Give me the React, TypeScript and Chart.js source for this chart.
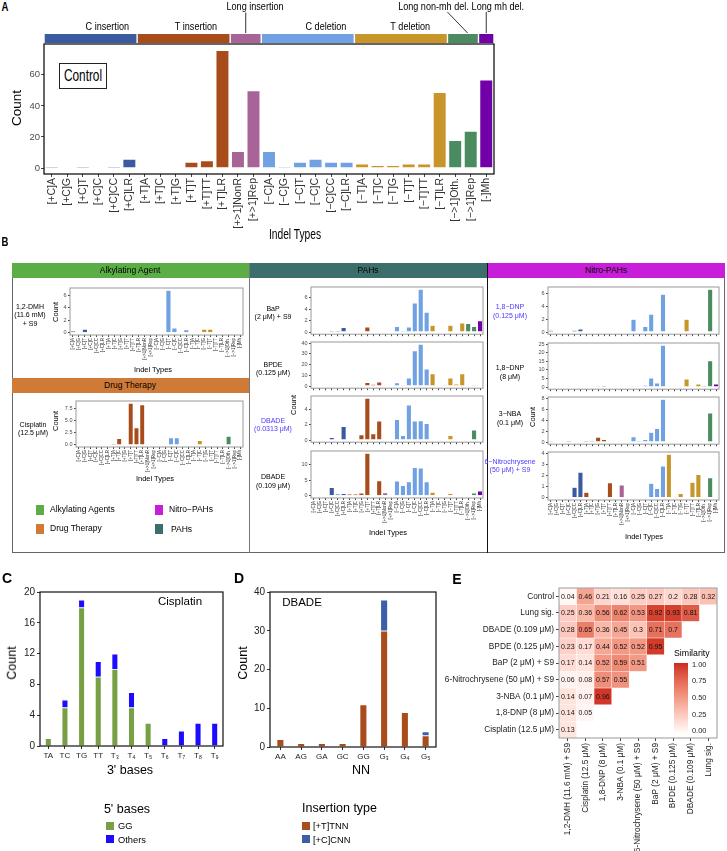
import React, { useEffect, useRef } from 'react';
import { Chart, registerables } from 'chart.js';

Chart.register(...registerables);

const F = "'Liberation Sans', Arial, Helvetica, sans-serif";
Chart.defaults.font.family = F;

// ================= DATA =================
const indelTypes = ['[+C]A', '[+C]G', '[+C]T', '[+C]C', '[+C]CC', '[+C]LR', '[+T]A', '[+T]C', '[+T]G', '[+T]T', '[+T]TT', '[+T]LR', '[+>1]NonR', '[+>1]Rep', '[−C]A', '[−C]G', '[−C]T', '[−C]C', '[−C]CC', '[−C]LR', '[−T]A', '[−T]C', '[−T]G', '[−T]T', '[−T]TT', '[−T]LR', '[−>1]Oth.', '[−>1]Rep', '[-]Mh'];
const indelGroups = ['C insertion', 'T insertion', 'Long insertion', 'C deletion', 'T deletion', 'Long non-mh del.', 'Long mh del.'];
const indelGroupSizes = [6, 6, 2, 6, 6, 2, 1];
const indelGroupColors = ['#3A5BA0', '#A84C1C', '#A86496', '#70A2E3', '#C8952A', '#4A8B5F', '#7100A8'];

const controlCounts = [1, 0, 1, 0, 1, 6, 0, 0, 0, 4, 5, 76, 11, 50, 11, 1, 4, 6, 4, 4, 3, 2, 2, 3, 3, 49, 18, 24, 57];
const controlTicks = [0, 20, 40, 60];

const dmhCounts = [0.3, 0, 0.6, 0, 0, 0, 0, 0, 0, 0, 0, 0, 0, 0, 0, 0, 6.8, 0.8, 0, 0.5, 0, 0, 0.6, 0.6, 0, 0, 0, 0, 0];
const cisplatinCounts = [0, 0, 0, 0, 0, 0, 0.3, 1.3, 0, 8.5, 3.5, 8.2, 0, 0, 0, 0, 1.5, 1.5, 0, 0, 0, 0.9, 0, 0, 0, 0, 1.8, 0, 0];
const bapCounts = [0, 0, 0, 0.3, 0.3, 0.8, 0, 0, 0, 0.9, 0, 0, 0, 0, 1.0, 0.3, 0.9, 5.1, 7.5, 3.5, 1.2, 0, 0, 1.2, 0, 1.6, 1.5, 1.0, 2.0];
const bpdeCounts = [0, 0, 0, 0.5, 0, 0.5, 0, 0, 0, 3.5, 1.8, 3.8, 0, 0, 3.2, 1.0, 7.5, 33, 39, 16, 11.5, 0, 1.0, 7.5, 2.0, 11.5, 0, 1.2, 0];
const dbadeLowCounts = [0, 0, 0, 0.35, 0, 1.8, 0, 0, 0.7, 5.5, 0.85, 2.5, 0, 0, 2.7, 0.6, 4.6, 2.5, 2.55, 2.2, 0, 0, 0, 0.6, 0, 0, 0, 1.35, 0];
const dbadeHighCounts = [0, 0.3, 0, 2.7, 0.6, 0.8, 0.6, 0.6, 0.9, 13.5, 0, 4.8, 1.0, 0, 4.7, 3.3, 4.5, 9.0, 8.8, 4.5, 1.2, 0, 0, 0.8, 0, 0, 0, 0.9, 1.6];
const dnpLowCounts = [0.3, 0, 0, 0, 0.3, 0.5, 0, 0, 0, 0, 0, 0, 0, 0, 2.0, 0, 0.9, 2.8, 0, 5.9, 0, 0, 0, 2.0, 0, 0, 0, 6.7, 0];
const dnpHighCounts = [0, 0, 0.3, 0.3, 0, 0.4, 0, 0, 0.8, 0.9, 0, 0, 0, 0, 0.8, 0.3, 1.2, 5.3, 2.5, 24.5, 0, 0, 0.5, 4.8, 0.5, 1.8, 1.0, 15.5, 1.9];
const nbaCounts = [0.2, 0, 0, 0.25, 0, 0, 0.3, 0.3, 0.9, 0.5, 0, 0, 0, 0, 1.0, 0.3, 0.5, 1.8, 2.5, 7.8, 0, 0, 0, 0, 0, 0, 0, 5.3, 0];
const nitrochryseneCounts = [0, 0, 0, 0, 0.95, 2.3, 0.5, 0, 0, 0, 1.35, 0, 1.15, 0, 0, 0, 0, 1.3, 0.85, 2.85, 3.9, 0, 0.4, 0, 1.4, 2.1, 0, 1.8, 0];

const ticks0246 = [0, 2, 4, 6];
const cisplatinTicks = [0, 2.5, 5, 7.5];
const cisplatinTickLabels = ['0.0', '2.5', '5.0', '7.5'];
const bpdeTicks = [0, 10, 20, 30, 40];
const dbadeLowTicks = [0, 2, 4];
const dbadeHighTicks = [0, 5, 10];
const dnpHighTicks = [0, 5, 10, 15, 20, 25];
const nbaTicks = [0, 2, 4, 6, 8];
const nitroTicks = [0, 1, 2, 3, 4];

// Panel C
const threePrimeBases = ['TA', 'TC', 'TG', 'TT', 'T₃', 'T₄', 'T₅', 'T₆', 'T₇', 'T₈', 'T₉'];
const cisGG = [1, 5, 18, 9, 10, 5, 3, 0, 0, 0, 0];
const cisOthers = [0, 1, 1, 2, 2, 2, 0, 1, 2, 3, 3];
const cTicks = [0, 4, 8, 12, 16, 20];

// Panel D
const nnBases = ['AA', 'AG', 'GA', 'GC', 'GG', 'G₃', 'G₄', 'G₅'];
const dbadeTNN = [2, 1, 1, 1, 11, 30, 9, 3];
const dbadeCNN = [0, 0, 0, 0, 0, 8, 0, 1];
const dTicks = [0, 10, 20, 30, 40];

// Panel E
const simRows = ['Control', 'Lung sig.', 'DBADE (0.109 μM)', 'BPDE (0.125 μM)', 'BaP (2 μM) + S9', '6-Nitrochrysene (50 μM) + S9', '3-NBA (0.1 μM)', '1,8-DNP (8 μM)', 'Cisplatin (12.5 μM)'];
const simCols = ['1,2-DMH (11.6 mM) + S9', 'Cisplatin (12.5 μM)', '1,8-DNP (8 μM)', '3-NBA (0.1 μM)', '6-Nitrochrysene (50 μM) + S9', 'BaP (2 μM) + S9', 'BPDE (0.125 μM)', 'DBADE (0.109 μM)', 'Lung sig.'];
const simControl = [0.04, 0.46, 0.21, 0.16, 0.25, 0.27, 0.2, 0.28, 0.32];
const simLung = [0.25, 0.36, 0.56, 0.62, 0.53, 0.92, 0.93, 0.81];
const simDbade = [0.28, 0.65, 0.36, 0.45, 0.3, 0.71, 0.7];
const simBpde = [0.23, 0.17, 0.44, 0.52, 0.52, 0.95];
const simBap = [0.17, 0.14, 0.52, 0.59, 0.51];
const simNitro = [0.06, 0.08, 0.57, 0.55];
const simNba = [0.14, 0.07, 0.96];
const simDnp = [0.14, 0.05];
const simCisplatin = [0.13];
const simMatrix = [simControl, simLung, simDbade, simBpde, simBap, simNitro, simNba, simDnp, simCisplatin];
const simLegendTicks = [1, 0.75, 0.5, 0.25, 0];

// ================= HELPERS =================
const barColors: string[] = [];
indelGroupSizes.forEach((n, g) => { for (let k = 0; k < n; k++) barColors.push(indelGroupColors[g]); });

function framePlugin(color: string, width = 1) {
  return {
    id: 'frame',
    afterDraw(chart: any) {
      const { ctx, chartArea: a } = chart;
      ctx.save();
      ctx.strokeStyle = color;
      ctx.lineWidth = width;
      ctx.strokeRect(a.left, a.top, a.right - a.left, a.bottom - a.top);
      ctx.restore();
    },
  };
}

function srgbToLin(c: number) { c /= 255; return c <= 0.04045 ? c / 12.92 : Math.pow((c + 0.055) / 1.055, 2.4); }
function linToSrgb(c: number) { const v = c <= 0.0031308 ? 12.92 * c : 1.055 * Math.pow(c, 1 / 2.4) - 0.055; return Math.round(Math.max(0, Math.min(1, v)) * 255); }
function hexRgb(h: string) { return [parseInt(h.slice(1, 3), 16), parseInt(h.slice(3, 5), 16), parseInt(h.slice(5, 7), 16)]; }
function rgbToLab(rgb: number[]) {
  const R = srgbToLin(rgb[0]), G = srgbToLin(rgb[1]), B = srgbToLin(rgb[2]);
  const X = (0.4124 * R + 0.3576 * G + 0.1805 * B) / 0.95047;
  const Y = 0.2126 * R + 0.7152 * G + 0.0722 * B;
  const Z = (0.0193 * R + 0.1192 * G + 0.9505 * B) / 1.08883;
  const f = (t: number) => (t > 0.008856 ? Math.cbrt(t) : 7.787 * t + 16 / 116);
  const fx = f(X), fy = f(Y), fz = f(Z);
  return [116 * fy - 16, 500 * (fx - fy), 200 * (fy - fz)];
}
function labToRgb(lab: number[]) {
  const fy = (lab[0] + 16) / 116, fx = fy + lab[1] / 500, fz = fy - lab[2] / 200;
  const inv = (t: number) => (t * t * t > 0.008856 ? t * t * t : (t - 16 / 116) / 7.787);
  const X = inv(fx) * 0.95047, Y = inv(fy), Z = inv(fz) * 1.08883;
  const R = 3.2406 * X - 1.5372 * Y - 0.4986 * Z;
  const G = -0.9689 * X + 1.8758 * Y + 0.0415 * Z;
  const B = 0.0557 * X - 0.204 * Y + 1.057 * Z;
  return [linToSrgb(R), linToSrgb(G), linToSrgb(B)];
}
const LAB_LOW = rgbToLab([255, 255, 255]);
const LAB_HIGH = rgbToLab(hexRgb('#CD2B20'));
function simColor(v: number) {
  const lab = LAB_LOW.map((l, i) => l + (LAB_HIGH[i] - l) * v);
  const c = labToRgb(lab);
  return `rgb(${c[0]},${c[1]},${c[2]})`;
}

function Txt(p: { x: number; y: number; children: any; size: number; color?: string; align?: 'center' | 'left' | 'right'; rotate?: boolean; bold?: boolean; lh?: number; sx?: number }) {
  const { x, y, children, size, color = '#000', align = 'center', rotate = false, bold = false, lh = 1.15, sx = 1 } = p;
  const tx = align === 'center' ? '-50%' : align === 'left' ? '0%' : '-100%';
  const origin = align === 'left' ? 'left center' : align === 'right' ? 'right center' : 'center center';
  return (
    <div style={{ position: 'absolute', left: x, top: y, transform: `translate(${tx},-50%)${rotate ? ' rotate(-90deg)' : ''}${sx !== 1 ? ` scaleX(${sx})` : ''}`, transformOrigin: origin, fontSize: size, lineHeight: lh, color, fontFamily: F, fontWeight: bold ? 'bold' : 'normal', whiteSpace: 'pre', textAlign: align === 'right' ? 'right' : align === 'left' ? 'left' : 'center' }}>
      {children}
    </div>
  );
}

function ChartCanvas(p: { left: number; top: number; width: number; height: number; make: () => any }) {
  const ref = useRef<HTMLCanvasElement>(null);
  useEffect(() => {
    const chart = new Chart(ref.current as HTMLCanvasElement, p.make());
    return () => chart.destroy();
  }, []);
  return <canvas ref={ref} width={p.width} height={p.height} style={{ position: 'absolute', left: p.left, top: p.top, width: p.width, height: p.height }} />;
}

// Generic indel bar chart config
function indelConfig(values: number[], ticks: number[], tickLabels: string[] | null, o: any) {
  const max = Math.max(...values);
  return {
    type: 'bar',
    data: {
      labels: indelTypes,
      datasets: [{ data: values, backgroundColor: barColors, borderColor: 'rgba(255,255,255,0.55)', borderWidth: o.bw, barPercentage: 0.9, categoryPercentage: 1 }],
    },
    options: {
      animation: false,
      responsive: false,
      devicePixelRatio: 1,
      layout: { padding: { top: o.padTop, right: o.padRight, left: 0, bottom: 0 } },
      plugins: { legend: { display: false }, tooltip: { enabled: false } },
      scales: {
        x: {
          grid: { display: true, drawOnChartArea: false, drawTicks: true, tickLength: o.tickLen, tickColor: '#444', offset: false },
          border: { display: false },
          ticks: { display: o.showX, autoSkip: false, minRotation: 90, maxRotation: 90, font: { family: F, size: o.xFont }, color: '#333', padding: 1 },
          afterFit: (s: any) => { s.height = o.xH; },
        },
        y: {
          min: -0.05 * max,
          max: 1.05 * max,
          afterBuildTicks: (s: any) => { s.ticks = ticks.map((v) => ({ value: v })); },
          ticks: { callback: (v: any, i: number) => (tickLabels ? tickLabels[i] : String(ticks[i])), font: { family: F, size: o.yFont }, color: '#4d4d4d', padding: o.yPad },
          grid: { drawOnChartArea: false, drawTicks: true, tickLength: o.tickLen, tickColor: '#444' },
          border: { display: false },
          afterFit: (s: any) => { s.width = o.yW; },
        },
      },
    },
    plugins: [framePlugin(o.frame, o.frameW), ...(o.extra || [])],
  };
}

// Panel A strip + labels (label anchors in category units)
const stripLabelLayout = [
  { at: 3.58, y: 27, line: null },
  { at: 9.29, y: 27, line: null },
  { at: 13.1, y: 7, line: [12.5, 12.5, 12.5, 33] },
  { at: 17.67, y: 27, line: null },
  { at: 23.1, y: 27, line: null },
  { at: 24.6, y: 7, line: [25.5, 12, 26.8, 33] },
  { at: 28.75, y: 7, line: [28, 12, 28, 33] },
];
const indelStripPlugin = {
  id: 'indelStrip',
  afterDraw(chart: any) {
    const { ctx } = chart;
    const x = chart.scales.x;
    const half = (x.getPixelForValue(1) - x.getPixelForValue(0)) / 2;
    ctx.save();
    let start = 0;
    indelGroupSizes.forEach((n, g) => {
      const l = x.getPixelForValue(start) - half + 0.7;
      const r = x.getPixelForValue(start + n - 1) + half - 0.7;
      ctx.fillStyle = indelGroupColors[g];
      ctx.fillRect(l, 34, r - l, 9);
      start += n;
    });
    ctx.fillStyle = '#000';
    ctx.font = `11.5px ${F}`;
    ctx.textAlign = 'center';
    ctx.textBaseline = 'middle';
    stripLabelLayout.forEach((s, g) => {
      ctx.save();
      ctx.translate(x.getPixelForValue(s.at), s.y);
      ctx.scale(0.79, 1);
      ctx.fillText(indelGroups[g], 0, 0);
      ctx.restore();
      if (s.line) {
        ctx.beginPath();
        ctx.moveTo(x.getPixelForValue(s.line[0]), s.line[1]);
        ctx.lineTo(x.getPixelForValue(s.line[2]), s.line[3]);
        ctx.strokeStyle = '#000';
        ctx.lineWidth = 0.8;
        ctx.stroke();
      }
    });
    ctx.restore();
  },
};

// Small panel layout (positions only)
const PT = 8, PR = 8, SYW = 16;
const smallPanels = [
  { values: dmhCounts, ticks: ticks0246, labels: null, l: 70, t: 288, r: 243, b: 335, showX: true },
  { values: cisplatinCounts, ticks: cisplatinTicks, labels: cisplatinTickLabels, l: 76, t: 401, r: 243, b: 447, showX: true },
  { values: bapCounts, ticks: ticks0246, labels: null, l: 311, t: 287, r: 483, b: 335, showX: false },
  { values: bpdeCounts, ticks: bpdeTicks, labels: null, l: 311, t: 342, r: 483, b: 389, showX: false },
  { values: dbadeLowCounts, ticks: dbadeLowTicks, labels: null, l: 311, t: 396, r: 483, b: 443, showX: false },
  { values: dbadeHighCounts, ticks: dbadeHighTicks, labels: null, l: 311, t: 451, r: 483, b: 498, showX: true },
  { values: dnpLowCounts, ticks: ticks0246, labels: null, l: 548, t: 287, r: 719, b: 335, showX: false },
  { values: dnpHighCounts, ticks: dnpHighTicks, labels: null, l: 548, t: 343, r: 719, b: 390, showX: false },
  { values: nbaCounts, ticks: nbaTicks, labels: null, l: 548, t: 397, r: 719, b: 445, showX: false },
  { values: nitrochryseneCounts, ticks: nitroTicks, labels: null, l: 548, t: 452, r: 719, b: 500, showX: true },
];

function SmallPanel({ p }: { p: any }) {
  const xH = p.showX ? 28 : 4;
  const left = p.l - SYW, top = p.t - PT;
  const width = p.r - p.l + SYW + PR, height = p.b - p.t + PT + xH;
  return (
    <ChartCanvas left={left} top={top} width={width} height={height} make={() => indelConfig(p.values, p.ticks, p.labels, {
      bw: 0.6, padTop: PT, padRight: PR, tickLen: 2, showX: p.showX, xFont: 4.5, yFont: 5.5, yPad: 1.5, xH, yW: SYW, frame: '#9a9a9a', frameW: 1,
    })} />
  );
}

// Stacked bars (C, D)
function stackConfig(labels: string[], a: number[], b: number[], ca: string, cb: string, ymax: number, ticks: number[], o: any) {
  return {
    type: 'bar',
    data: {
      labels,
      datasets: [
        { data: a, backgroundColor: ca, borderColor: 'rgba(255,255,255,0.45)', borderWidth: 0.8, barPercentage: o.bp, categoryPercentage: 1 },
        { data: b, backgroundColor: cb, borderColor: 'rgba(255,255,255,0.45)', borderWidth: 0.8, barPercentage: o.bp, categoryPercentage: 1 },
      ],
    },
    options: {
      animation: false,
      responsive: false,
      devicePixelRatio: 1,
      layout: { padding: { top: PT, right: PR, left: 0, bottom: 0 } },
      plugins: { legend: { display: false }, tooltip: { enabled: false } },
      scales: {
        x: {
          stacked: true,
          grid: { display: true, drawOnChartArea: false, drawTicks: true, tickLength: 3, tickColor: '#333', offset: false },
          border: { display: false },
          ticks: { autoSkip: false, maxRotation: 0, minRotation: 0, font: { family: F, size: 8 }, color: '#222', padding: 1.5 },
          afterFit: (s: any) => { s.height = 16; },
        },
        y: {
          stacked: true,
          min: 0,
          max: ymax,
          afterBuildTicks: (s: any) => { s.ticks = ticks.map((v) => ({ value: v })); },
          ticks: { font: { family: F, size: 10 }, color: '#222', padding: 2 },
          grid: { drawOnChartArea: false, drawTicks: true, tickLength: 3, tickColor: '#333' },
          border: { display: false },
          afterFit: (s: any) => { s.width = o.yW; },
        },
      },
    },
    plugins: [framePlugin('#111', 1.2)],
  };
}

// Heatmap (E)
const NR = simRows.length;
const cellTextPlugin = {
  id: 'cellText',
  afterDatasetsDraw(chart: any) {
    const { ctx } = chart;
    ctx.save();
    ctx.font = `7px ${F}`;
    ctx.fillStyle = '#111';
    ctx.textAlign = 'center';
    ctx.textBaseline = 'middle';
    chart.data.datasets.forEach((ds: any, di: number) => {
      const meta = chart.getDatasetMeta(di);
      meta.data.forEach((el: any, i: number) => {
        const v = simMatrix[di][i];
        if (v === undefined || v === null) return;
        const pr = el.getProps(['x', 'y', 'base'], true);
        ctx.fillText(String(v), pr.x, (pr.y + pr.base) / 2 + 0.5);
      });
    });
    ctx.restore();
  },
};
function heatConfig() {
  return {
    type: 'bar',
    data: {
      labels: simCols,
      datasets: simMatrix.map((row, r) => ({
        data: simCols.map((_, c) => (row[c] === undefined ? null : [NR - 1 - r, NR - r])),
        backgroundColor: simCols.map((_, c) => (row[c] === undefined ? 'rgba(0,0,0,0)' : simColor(row[c]))),
        borderColor: 'rgba(255,255,255,0.35)',
        borderWidth: 0.5,
        borderSkipped: false,
        grouped: false,
        barPercentage: 1,
        categoryPercentage: 1,
      })),
    },
    options: {
      animation: false,
      responsive: false,
      devicePixelRatio: 1,
      layout: { padding: { top: PT, right: PR, left: 0, bottom: 0 } },
      plugins: { legend: { display: false }, tooltip: { enabled: false } },
      scales: {
        x: {
          grid: { display: true, drawOnChartArea: false, drawTicks: true, tickLength: 3, tickColor: '#444', offset: false },
          border: { display: false },
          ticks: { autoSkip: false, minRotation: 90, maxRotation: 90, font: { family: F, size: 8.3 }, color: '#222', padding: 2 },
          afterFit: (s: any) => { s.height = 113; },
        },
        y: {
          min: 0,
          max: NR,
          afterBuildTicks: (s: any) => { s.ticks = simRows.map((_, r) => ({ value: NR - 1 - r + 0.5 })); },
          ticks: { callback: (v: any) => simRows[NR - 1 - Math.round(v - 0.5)], font: { family: F, size: 8.3 }, color: '#222', padding: 2 },
          grid: { drawOnChartArea: false, drawTicks: true, tickLength: 3, tickColor: '#444' },
          border: { display: false },
          afterFit: (s: any) => { s.width = 129; },
        },
      },
    },
    plugins: [framePlugin('#999', 1), cellTextPlugin],
  };
}

const GREEN = '#5BAE46', ORANGE = '#D07A37', TEAL = '#3C6E6B', MAGENTA = '#C91ED9';
const BLUE_LBL = '#4A3AFF';

export default function App() {
  const gradStops = Array.from({ length: 11 }, (_, i) => `${simColor(i / 10)} ${i * 10}%`).join(',');
  return (
    <div style={{ position: 'fixed', left: 0, top: 0, width: 727, height: 851, background: '#fff', overflow: 'hidden', fontFamily: F }}>
      {/* Panel A */}
      <Txt x={4.5} y={8} size={12} bold sx={0.8}>A</Txt>
      <ChartCanvas left={0} top={0} width={545} height={250} make={() => indelConfig(controlCounts, controlTicks, null, {
        bw: 1, padTop: 44, padRight: 51, tickLen: 3, showX: true, xFont: 10.5, yFont: 9.5, yPad: 1, xH: 76, yW: 44, frame: '#000', frameW: 1.2, extra: [indelStripPlugin],
      })} />
      <div style={{ position: 'absolute', left: 59, top: 63, width: 48, height: 26, border: '1.2px solid #222', boxSizing: 'border-box', background: '#fff' }} />
      <Txt x={83} y={76} size={16} sx={0.74}>Control</Txt>
      <Txt x={16.5} y={108} size={13.5} rotate>Count</Txt>
      <Txt x={295} y={234} size={14} sx={0.73}>Indel Types</Txt>

      {/* Panel B */}
      <Txt x={4.5} y={243} size={12} bold sx={0.8}>B</Txt>
      <div style={{ position: 'absolute', left: 12, top: 263, width: 713, height: 290, border: '1px solid #666', boxSizing: 'border-box' }} />
      <div style={{ position: 'absolute', left: 12, top: 263, width: 237, height: 14.5, background: GREEN }} />
      <div style={{ position: 'absolute', left: 249, top: 263, width: 238, height: 14.5, background: TEAL }} />
      <div style={{ position: 'absolute', left: 487, top: 263, width: 238, height: 14.5, background: MAGENTA }} />
      <div style={{ position: 'absolute', left: 12, top: 378, width: 237, height: 15, background: ORANGE }} />
      <div style={{ position: 'absolute', left: 249, top: 263, width: 1, height: 290, background: '#777' }} />
      <div style={{ position: 'absolute', left: 486.5, top: 263, width: 1.5, height: 290, background: '#111' }} />
      <Txt x={130} y={270.5} size={8.5}>Alkylating Agent</Txt>
      <Txt x={368} y={270.5} size={8.5}>PAHs</Txt>
      <Txt x={606} y={270.5} size={8.5}>Nitro-PAHs</Txt>
      <Txt x={130} y={385.5} size={8.5}>Drug Therapy</Txt>

      {smallPanels.map((p, i) => <SmallPanel key={i} p={p} />)}

      <Txt x={30} y={316} size={7} lh={1.2}>{'1,2-DMH\n(11.6 mM)\n+ S9'}</Txt>
      <Txt x={33} y={429} size={7} lh={1.2}>{'Cisplatin\n(12.5 μM)'}</Txt>
      <Txt x={56} y={312} size={7.5} rotate>Count</Txt>
      <Txt x={56} y={421} size={7.5} rotate>Count</Txt>
      <Txt x={153} y={370} size={7.5}>Indel Types</Txt>
      <Txt x={155} y={479} size={7.5}>Indel Types</Txt>

      <Txt x={273} y={313.5} size={7} lh={1.25}>{'BaP\n(2 μM) + S9'}</Txt>
      <Txt x={273} y={369.5} size={7} lh={1.25}>{'BPDE\n(0.125 μM)'}</Txt>
      <Txt x={273} y={425.5} size={7} lh={1.25} color={BLUE_LBL}>{'DBADE\n(0.0313 μM)'}</Txt>
      <Txt x={273} y={482} size={7} lh={1.25}>{'DBADE\n(0.109 μM)'}</Txt>
      <Txt x={294} y={405} size={7.5} rotate>Count</Txt>
      <Txt x={388} y={533} size={7.5}>Indel Types</Txt>

      <Txt x={510} y={312} size={7} lh={1.25} color={BLUE_LBL}>{'1,8−DNP\n(0.125 μM)'}</Txt>
      <Txt x={510} y={373} size={7} lh={1.25}>{'1,8−DNP\n(8 μM)'}</Txt>
      <Txt x={510} y={419} size={7} lh={1.25}>{'3−NBA\n(0.1 μM)'}</Txt>
      <Txt x={510} y={466.5} size={7} lh={1.25} color={BLUE_LBL}>{'6−Nitrochrysene\n(50 μM) + S9'}</Txt>
      <Txt x={533} y={417} size={7.5} rotate>Count</Txt>
      <Txt x={644} y={537} size={7.5}>Indel Types</Txt>

      <div style={{ position: 'absolute', left: 36, top: 505, width: 8, height: 10, background: GREEN }} />
      <div style={{ position: 'absolute', left: 36, top: 524, width: 8, height: 10, background: ORANGE }} />
      <div style={{ position: 'absolute', left: 155, top: 505, width: 8, height: 10, background: MAGENTA }} />
      <div style={{ position: 'absolute', left: 155, top: 524, width: 8, height: 10, background: TEAL }} />
      <Txt x={50} y={510} size={8.5} align="left">Alkylating Agents</Txt>
      <Txt x={50} y={529} size={8.5} align="left">Drug Therapy</Txt>
      <Txt x={169} y={510} size={8.5} align="left">Nitro−PAHs</Txt>
      <Txt x={171} y={530} size={8.5} align="left">PAHs</Txt>

      {/* Panel C */}
      <Txt x={7} y={578} size={14} bold>C</Txt>
      <ChartCanvas left={0} top={584} width={231} height={178} make={() => stackConfig(threePrimeBases, cisGG, cisOthers, '#76A043', '#1C0BFF', 20, cTicks, { bp: 0.4, yW: 40 })} />
      <Txt x={180} y={602} size={11.5}>Cisplatin</Txt>
      <Txt x={12} y={663} size={12.5} rotate>Count</Txt>
      <Txt x={130} y={770} size={12.5}>3' bases</Txt>
      <Txt x={127} y={809} size={12.5}>5' bases</Txt>
      <div style={{ position: 'absolute', left: 106, top: 821.5, width: 7.5, height: 8, background: '#76A043' }} />
      <div style={{ position: 'absolute', left: 106, top: 835, width: 7.5, height: 8, background: '#1C0BFF' }} />
      <Txt x={118} y={826} size={9.3} align="left">GG</Txt>
      <Txt x={118} y={839.5} size={9.3} align="left">Others</Txt>

      {/* Panel D */}
      <Txt x={239} y={578} size={14} bold>D</Txt>
      <ChartCanvas left={248} top={584} width={196} height={179} make={() => stackConfig(nnBases, dbadeTNN, dbadeCNN, '#A84C1C', '#3B5FA8', 40, dTicks, { bp: 0.37, yW: 22 })} />
      <Txt x={302} y={603} size={11.5}>DBADE</Txt>
      <Txt x={243} y={663} size={12.5} rotate>Count</Txt>
      <Txt x={361} y={770} size={12.5}>NN</Txt>
      <Txt x={339.5} y={808} size={12.5}>Insertion type</Txt>
      <div style={{ position: 'absolute', left: 302, top: 821.5, width: 8, height: 8, background: '#A84C1C' }} />
      <div style={{ position: 'absolute', left: 302, top: 835, width: 8, height: 8, background: '#3B5FA8' }} />
      <Txt x={313} y={826} size={9.3} align="left">[+T]TNN</Txt>
      <Txt x={313} y={839.5} size={9.3} align="left">[+C]CNN</Txt>

      {/* Panel E */}
      <Txt x={457} y={579} size={14} bold>E</Txt>
      <ChartCanvas left={430} top={580} width={295} height={271} make={heatConfig} />
      <Txt x={674} y={653} size={8.8} align="left">Similarity</Txt>
      <div style={{ position: 'absolute', left: 674, top: 662.5, width: 14, height: 71, background: `linear-gradient(to top, ${gradStops})` }} />
      {simLegendTicks.map((v, i) => (
        <Txt key={i} x={692} y={664.5 + i * 16.7} size={7.4} align="left" color="#222">{v.toFixed(2)}</Txt>
      ))}
    </div>
  );
}
